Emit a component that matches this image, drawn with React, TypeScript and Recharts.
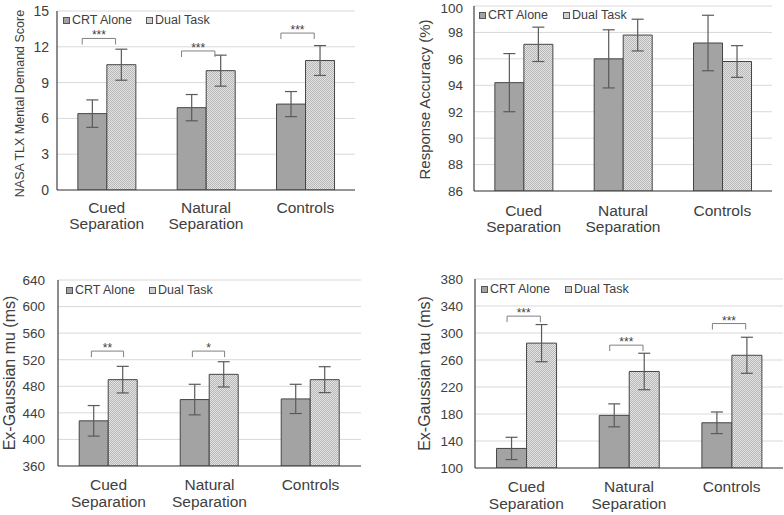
import React from 'react';
import { BarChart, Bar, XAxis, YAxis, CartesianGrid, ErrorBar, LabelList, Legend } from 'recharts';

const FONT = '"Liberation Sans", Arial, Helvetica, sans-serif';

const categories = ['Cued Separation', 'Natural Separation', 'Controls'];
const seriesNames = ['CRT Alone', 'Dual Task'];

// Panel A: NASA TLX
const nasaCrt = [6.4, 6.9, 7.2];
const nasaCrtErr = [1.15, 1.1, 1.05];
const nasaDual = [10.5, 10.0, 10.85];
const nasaDualErr = [1.3, 1.3, 1.25];
const nasaSig = ['***', '***', '***'];
const nasaSigLevel = [12.7, 11.65, 13.15];
const nasaTicks = [0, 3, 6, 9, 12, 15];

// Panel B: Response accuracy
const accCrt = [94.2, 96.0, 97.2];
const accCrtErr = [2.2, 2.2, 2.1];
const accDual = [97.1, 97.8, 95.8];
const accDualErr = [1.3, 1.2, 1.2];
const accSig = ['', '', ''];
const accSigLevel = [0, 0, 0];
const accTicks = [86, 88, 90, 92, 94, 96, 98, 100];

// Panel C: Ex-Gaussian mu
const muCrt = [428, 460, 461];
const muCrtErr = [23, 23, 22];
const muDual = [490, 498, 490];
const muDualErr = [20, 19, 19.5];
const muSig = ['**', '*', ''];
const muSigLevel = [533, 533, 0];
const muTicks = [360, 400, 440, 480, 520, 560, 600, 640];

// Panel D: Ex-Gaussian tau
const tauCrt = [129, 178, 167];
const tauCrtErr = [16.5, 17, 16];
const tauDual = [285, 243, 267];
const tauDualErr = [27.5, 27, 26.7];
const tauSig = ['***', '***', '***'];
const tauSigLevel = [325, 282, 314];
const tauTicks = [100, 140, 180, 220, 260, 300, 340, 380];

const CRT_FILL = '#a3a3a3';
const BAR_STROKE = '#454545';
const ERR_STROKE = '#5a5a5a';
const TEXT = '#404040';

function buildRows(crt: number[], crtErr: number[], dual: number[], dualErr: number[]) {
  return categories.map((c, i) => ({ cat: c, crt: crt[i], crtErr: crtErr[i], dual: dual[i], dualErr: dualErr[i] }));
}

const XTick = (props: any) => {
  const { x, y, payload, dy1, lh } = props;
  const words: string[] = String(payload.value).split(' ');
  return (
    <g>
      {words.map((w, i) => (
        <text key={i} x={x} y={y + dy1 + i * lh} textAnchor="middle" fontSize={15.5} fontFamily={FONT} fill={TEXT}>
          {w}
        </text>
      ))}
    </g>
  );
};

type PanelCfg = {
  id: string;
  left: number;
  top: number;
  width: number;
  height: number;
  margin: { top: number; right: number; left: number; bottom: number };
  yWidth: number;
  xHeight: number;
  domain: [number, number];
  ticks: number[];
  tickMargin: number;
  yTickFont: number;
  yLabel: string;
  yLabelFont: number;
  yLabelX: number;
  yLabelDy: number;
  legendLeft: number;
  legendTop: number;
  legendGap: number;
  xDy: number;
  xLh: number;
  crt: number[];
  crtErr: number[];
  dual: number[];
  dualErr: number[];
  sig: string[];
  sigLevel: number[];
  bs: number;
  be: number;
};

const LegendBox = ({ gap }: { gap: number }) => {
  const sq = (fill: string, ml: number) => (
    <span
      style={{
        display: 'inline-block',
        width: 7,
        height: 7,
        boxSizing: 'border-box',
        background: fill,
        border: '1px solid #555',
        marginRight: 2,
        marginLeft: ml,
      }}
    />
  );
  return (
    <div
      style={{
        display: 'flex',
        alignItems: 'center',
        fontFamily: FONT,
        fontSize: 12.5,
        lineHeight: '14px',
        color: TEXT,
        whiteSpace: 'nowrap',
      }}
    >
      {sq(CRT_FILL, 0)}
      <span>{seriesNames[0]}</span>
      {sq('#d0d0d0', gap)}
      <span>{seriesNames[1]}</span>
    </div>
  );
};

const Panel = ({ cfg }: { cfg: PanelCfg }) => {
  const rows = buildRows(cfg.crt, cfg.crtErr, cfg.dual, cfg.dualErr);
  const dmin = cfg.domain[0];

  const bracket = (props: any) => {
    const vb = props.viewBox || {};
    const x = Number(props.x ?? vb.x);
    const y = Number(props.y ?? vb.y);
    const w = Number(props.width ?? vb.width);
    const h = Number(props.height ?? vb.height);
    let i = props.index;
    if (typeof i !== 'number') i = cfg.crt.indexOf(Number(props.value));
    if (i < 0 || !cfg.sig[i]) return null;
    const base = y + h;
    const ppu = h / (cfg.crt[i] - dmin);
    const ly = base - (cfg.sigLevel[i] - dmin) * ppu;
    const x1 = x + cfg.bs * w;
    const x2 = x + cfg.be * w;
    return (
      <g>
        <path d={`M${x1},${ly + 6}V${ly}H${x2}V${ly + 6}`} fill="none" stroke="#808080" strokeWidth={1} />
        <text x={(x1 + x2) / 2} y={ly + 1} textAnchor="middle" fontSize={12} fontFamily={FONT} fill={TEXT}>
          {cfg.sig[i]}
        </text>
      </g>
    );
  };

  const yLabel = (props: any) => {
    const vb = props.viewBox || {};
    const cy = Number(vb.y) + Number(vb.height) / 2 + cfg.yLabelDy;
    const cx = cfg.yLabelX;
    return (
      <text
        x={cx}
        y={cy}
        textAnchor="middle"
        dominantBaseline="central"
        transform={`rotate(-90 ${cx} ${cy})`}
        fontSize={cfg.yLabelFont}
        fontFamily={FONT}
        fill={TEXT}
      >
        {cfg.yLabel}
      </text>
    );
  };

  const pid = `dots-${cfg.id}`;

  return (
    <div style={{ position: 'absolute', left: cfg.left, top: cfg.top, width: cfg.width, height: cfg.height }}>
      <BarChart
        width={cfg.width}
        height={cfg.height}
        data={rows}
        margin={cfg.margin}
        barCategoryGap="21%"
        barGap={0}
      >
        <defs>
          <pattern id={pid} width={2} height={2} patternUnits="userSpaceOnUse">
            <rect x={0} y={0} width={2} height={2} fill="#e4e4e4" />
            <rect x={0} y={0} width={1} height={1} fill="#b6b6b6" />
            <rect x={1} y={1} width={1} height={1} fill="#b6b6b6" />
          </pattern>
        </defs>
        <CartesianGrid vertical={false} stroke="#d9d9d9" strokeWidth={1} />
        <XAxis
          dataKey="cat"
          height={cfg.xHeight}
          axisLine={{ stroke: '#404040', strokeWidth: 1.2 }}
          tickLine={false}
          interval={0}
          tick={<XTick dy1={cfg.xDy} lh={cfg.xLh} />}
        />
        <YAxis
          width={cfg.yWidth}
          domain={cfg.domain}
          ticks={cfg.ticks}
          type="number"
          allowDataOverflow
          axisLine={{ stroke: '#404040', strokeWidth: 1.2 }}
          tickLine={false}
          tickMargin={cfg.tickMargin}
          tick={{ fontSize: cfg.yTickFont, fontFamily: FONT, fill: TEXT }}
          label={yLabel}
        />
        <Legend
          layout="horizontal"
          verticalAlign="middle"
          align="center"
          wrapperStyle={{ top: cfg.legendTop, left: cfg.legendLeft, width: 'auto' }}
          content={() => <LegendBox gap={cfg.legendGap} />}
        />
        <Bar dataKey="crt" name={seriesNames[0]} fill={CRT_FILL} stroke={BAR_STROKE} strokeWidth={1} isAnimationActive={false}>
          <ErrorBar dataKey="crtErr" width={6} stroke={ERR_STROKE} strokeWidth={1.2} direction="y" />
          <LabelList dataKey="crt" content={bracket} />
        </Bar>
        <Bar dataKey="dual" name={seriesNames[1]} fill={`url(#${pid})`} stroke={BAR_STROKE} strokeWidth={1} isAnimationActive={false}>
          <ErrorBar dataKey="dualErr" width={6} stroke={ERR_STROKE} strokeWidth={1.2} direction="y" />
        </Bar>
      </BarChart>
    </div>
  );
};

const panels: PanelCfg[] = [
  {
    id: 'a', left: 0, top: 0, width: 392, height: 257,
    margin: { top: 11, right: 37, left: 0, bottom: 17 },
    yWidth: 57, xHeight: 50, domain: [0, 15], ticks: nasaTicks, tickMargin: 2, yTickFont: 14,
    yLabel: 'NASA TLX Mental Demand Score', yLabelFont: 12.5, yLabelX: 20, yLabelDy: 3,
    legendLeft: 63, legendTop: 13, legendGap: 14, xDy: 15, xLh: 16,
    crt: nasaCrt, crtErr: nasaCrtErr, dual: nasaDual, dualErr: nasaDualErr, sig: nasaSig, sigLevel: nasaSigLevel,
    bs: 0.15, be: 1.3,
  },
  {
    id: 'b', left: 392, top: 0, width: 392, height: 257,
    margin: { top: 6, right: 12, left: 0, bottom: 16 },
    yWidth: 82, xHeight: 50, domain: [86, 100], ticks: accTicks, tickMargin: 5, yTickFont: 13.5,
    yLabel: 'Response Accuracy (%)', yLabelFont: 15, yLabelX: 32, yLabelDy: 1,
    legendLeft: 87, legendTop: 8, legendGap: 15, xDy: 17, xLh: 16,
    crt: accCrt, crtErr: accCrtErr, dual: accDual, dualErr: accDualErr, sig: accSig, sigLevel: accSigLevel,
    bs: 0.15, be: 1.3,
  },
  {
    id: 'c', left: 0, top: 257, width: 392, height: 258,
    margin: { top: 23, right: 31, left: 0, bottom: 4 },
    yWidth: 58, xHeight: 45, domain: [360, 640], ticks: muTicks, tickMargin: 7, yTickFont: 13.5,
    yLabel: 'Ex-Gaussian mu (ms)', yLabelFont: 16, yLabelX: 9, yLabelDy: 0,
    legendLeft: 66, legendTop: 26, legendGap: 14, xDy: 16, xLh: 17,
    crt: muCrt, crtErr: muCrtErr, dual: muDual, dualErr: muDualErr, sig: muSig, sigLevel: muSigLevel,
    bs: 0.42, be: 1.53,
  },
  {
    id: 'd', left: 392, top: 257, width: 392, height: 258,
    margin: { top: 22, right: 1, left: 0, bottom: 2 },
    yWidth: 83, xHeight: 45, domain: [100, 380], ticks: tauTicks, tickMargin: 6, yTickFont: 13.5,
    yLabel: 'Ex-Gaussian tau (ms)', yLabelFont: 16, yLabelX: 32, yLabelDy: 0,
    legendLeft: 89, legendTop: 25, legendGap: 15, xDy: 16, xLh: 17,
    crt: tauCrt, crtErr: tauCrtErr, dual: tauDual, dualErr: tauDualErr, sig: tauSig, sigLevel: tauSigLevel,
    bs: 0.35, be: 1.46,
  },
];

export default function App() {
  return (
    <div style={{ position: 'absolute', left: 0, top: 0, width: 784, height: 515, background: '#ffffff', overflow: 'hidden' }}>
      {panels.map((p) => (
        <Panel key={p.id} cfg={p} />
      ))}
    </div>
  );
}
